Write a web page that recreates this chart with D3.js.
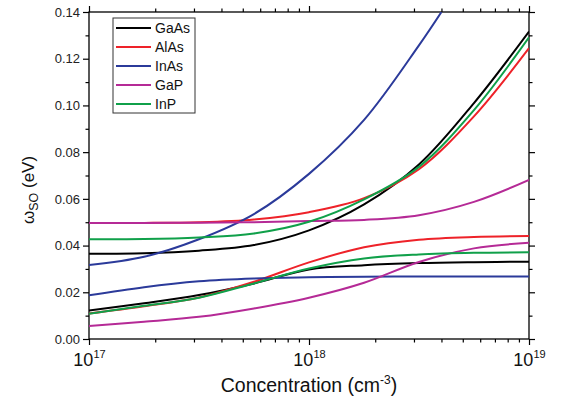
<!DOCTYPE html>
<html>
<head>
<meta charset="utf-8">
<script src="https://cdn.jsdelivr.net/npm/d3@7"></script>
<style>
  body { margin: 0; background: #fff; }
  svg, svg text { font-family: "Liberation Sans", Arial, sans-serif; }
</style>
</head>
<body>
<div id="chart"></div>
<script>
const conc = [1e17, 1.78e17, 3.16e17, 5.62e17, 1e18, 1.78e18, 3.16e18, 5.62e18, 1e19];
const concInAsUp = [1e17, 1.78e17, 3.16e17, 5.62e17, 1e18, 1.78e18, 3.16e18, 4.0e18];

// omega_SO (eV), upper and lower branch per material
const gaAsUp  = [0.0365, 0.0367, 0.0378, 0.0402, 0.0465, 0.0576, 0.0747, 0.1010, 0.1316];
const gaAsLow = [0.0122, 0.0153, 0.0188, 0.0238, 0.0298, 0.0316, 0.0325, 0.0329, 0.0331];
const alAsUp  = [0.0497, 0.0497, 0.0500, 0.0512, 0.0543, 0.0603, 0.0727, 0.0953, 0.1245];
const alAsLow = [0.0109, 0.0140, 0.0178, 0.0245, 0.0328, 0.0393, 0.0425, 0.0437, 0.0441];
const inAsUp  = [0.0317, 0.0352, 0.0427, 0.0535, 0.0707, 0.0938, 0.1257, 0.1400];
const inAsLow = [0.0187, 0.0222, 0.0247, 0.0259, 0.0264, 0.0267, 0.0268, 0.0268, 0.0268];
const gaPUp   = [0.0497, 0.0497, 0.0498, 0.0500, 0.0505, 0.0510, 0.0530, 0.0587, 0.0681];
const gaPLow  = [0.0056, 0.0074, 0.0095, 0.0131, 0.0177, 0.0241, 0.0330, 0.0388, 0.0412];
const inPUp   = [0.0427, 0.0428, 0.0435, 0.0452, 0.0502, 0.0598, 0.0737, 0.0980, 0.1292];
const inPLow  = [0.0108, 0.0142, 0.0177, 0.0238, 0.0302, 0.0345, 0.0362, 0.0369, 0.0371];

const materials = ["GaAs", "AlAs", "InAs", "GaP", "InP"];
const colors = ["#000000", "#ee2229", "#2b3a9a", "#b52a96", "#10a04a"];

const yTicks = [0, 0.02, 0.04, 0.06, 0.08, 0.10, 0.12, 0.14];
const xTicks = [1e17, 1e18, 1e19];

const series = [
  { m: "GaAs", x: conc, y: gaAsLow }, { m: "GaAs", x: conc, y: gaAsUp },
  { m: "AlAs", x: conc, y: alAsLow }, { m: "AlAs", x: conc, y: alAsUp },
  { m: "InAs", x: conc, y: inAsLow }, { m: "InAs", x: concInAsUp, y: inAsUp },
  { m: "GaP",  x: conc, y: gaPLow },  { m: "GaP",  x: conc, y: gaPUp },
  { m: "InP",  x: conc, y: inPLow },  { m: "InP",  x: conc, y: inPUp }
];

const font = "Liberation Sans, Arial, sans-serif";
const margin = { top: 12, right: 35, bottom: 61, left: 89 },
      width = 564 - margin.left - margin.right,
      height = 400 - margin.top - margin.bottom;

const svg = d3.select("#chart").append("svg")
  .attr("width", 564).attr("height", 400);
const g = svg.append("g").attr("transform", `translate(${margin.left},${margin.top})`);

const x = d3.scaleLog().domain([1e17, 1e19]).range([0, width]);
const y = d3.scaleLinear().domain([0, 0.14]).range([height, 0]);
const color = d3.scaleOrdinal(materials, colors);

g.append("clipPath").attr("id", "clip")
  .append("rect").attr("width", width).attr("height", height);

// minor ticks
const xMinor = [];
[1e17, 1e18].forEach(b => { for (let k = 2; k <= 9; k++) xMinor.push(b * k); });
const yMinor = [0.01, 0.03, 0.05, 0.07, 0.09, 0.11, 0.13];

function styleAxis(sel) {
  sel.attr("font-family", font);
  sel.select(".domain").remove();
  sel.selectAll("line").attr("stroke", "#000").attr("stroke-width", 1.2);
}

g.append("g").attr("transform", `translate(0,${height})`)
  .call(d3.axisBottom(x).tickValues(xMinor).tickSize(3.5).tickFormat(""))
  .call(styleAxis);
g.append("g")
  .call(d3.axisTop(x).tickValues(xMinor).tickSize(3.5).tickFormat(""))
  .call(styleAxis);
g.append("g")
  .call(d3.axisLeft(y).tickValues(yMinor).tickSize(3.5).tickFormat(""))
  .call(styleAxis);
g.append("g").attr("transform", `translate(${width},0)`)
  .call(d3.axisRight(y).tickValues(yMinor).tickSize(3.5).tickFormat(""))
  .call(styleAxis);

// major ticks
g.append("g").attr("transform", `translate(0,${height})`)
  .call(d3.axisBottom(x).tickValues(xTicks).tickSize(6).tickFormat(""))
  .call(styleAxis)
  .call(a => {
    a.selectAll(".tick text").remove();
    a.selectAll(".tick").append("text")
      .attr("y", 27).attr("fill", "#111").attr("text-anchor", "middle")
      .style("font-size", "18px")
      .each(function(d) {
        const t = d3.select(this);
        t.append("tspan").text("10");
        t.append("tspan").attr("dy", -8).style("font-size", "11px")
          .text(Math.round(Math.log10(d)));
      });
  });
g.append("g")
  .call(d3.axisTop(x).tickValues(xTicks).tickSize(6).tickFormat(""))
  .call(styleAxis);
g.append("g")
  .call(d3.axisLeft(y).tickValues(yTicks).tickSize(6).tickPadding(3).tickFormat(d3.format(".2f")))
  .call(styleAxis)
  .call(a => a.selectAll("text").attr("fill", "#222").style("font-size", "13px"));
g.append("g").attr("transform", `translate(${width},0)`)
  .call(d3.axisRight(y).tickValues(yTicks).tickSize(6).tickFormat(""))
  .call(styleAxis);

// frame
g.append("rect").attr("width", width).attr("height", height)
  .attr("fill", "none").attr("stroke", "#000").attr("stroke-width", 1.3);

// curves
const line = d3.line().curve(d3.curveCatmullRom.alpha(0.5))
  .x(d => x(d[0])).y(d => y(d[1]));

g.append("g").attr("clip-path", "url(#clip)")
  .selectAll("path").data(series).join("path")
  .attr("fill", "none")
  .attr("stroke", d => color(d.m))
  .attr("stroke-width", 2)
  .attr("d", d => line(d.x.map((c, i) => [c, d.y[i]])));

// legend
const lg = g.append("g").attr("transform", "translate(24,6)");
lg.append("rect").attr("width", 82).attr("height", 95)
  .attr("fill", "#fff").attr("stroke", "#333").attr("stroke-width", 1);
materials.forEach((m, i) => {
  const row = lg.append("g").attr("transform", `translate(0,${10 + i * 19})`);
  row.append("line").attr("x1", 3).attr("x2", 38).attr("y1", 0).attr("y2", 0)
    .attr("stroke", color(m)).attr("stroke-width", 2);
  row.append("text").attr("x", 42).attr("y", 5).style("font-size", "14px")
    .attr("fill", "#111").text(m);
});

// axis titles
svg.append("text")
  .attr("x", margin.left + width / 2).attr("y", 392)
  .attr("text-anchor", "middle").style("font-size", "19.5px").attr("fill", "#111")
  .call(t => {
    t.append("tspan").text("Concentration (cm");
    t.append("tspan").attr("dy", -8).style("font-size", "12px").text("-3");
    t.append("tspan").attr("dy", 8).text(")");
  });

svg.append("text")
  .attr("transform", "translate(34,190) rotate(-90)")
  .attr("text-anchor", "middle").style("font-size", "17px").attr("fill", "#111")
  .call(t => {
    t.append("tspan").text("ω");
    t.append("tspan").attr("dy", 4).style("font-size", "12.5px").text("SO");
    t.append("tspan").attr("dy", -4).text(" (eV)");
  });
</script>
</body>
</html>
